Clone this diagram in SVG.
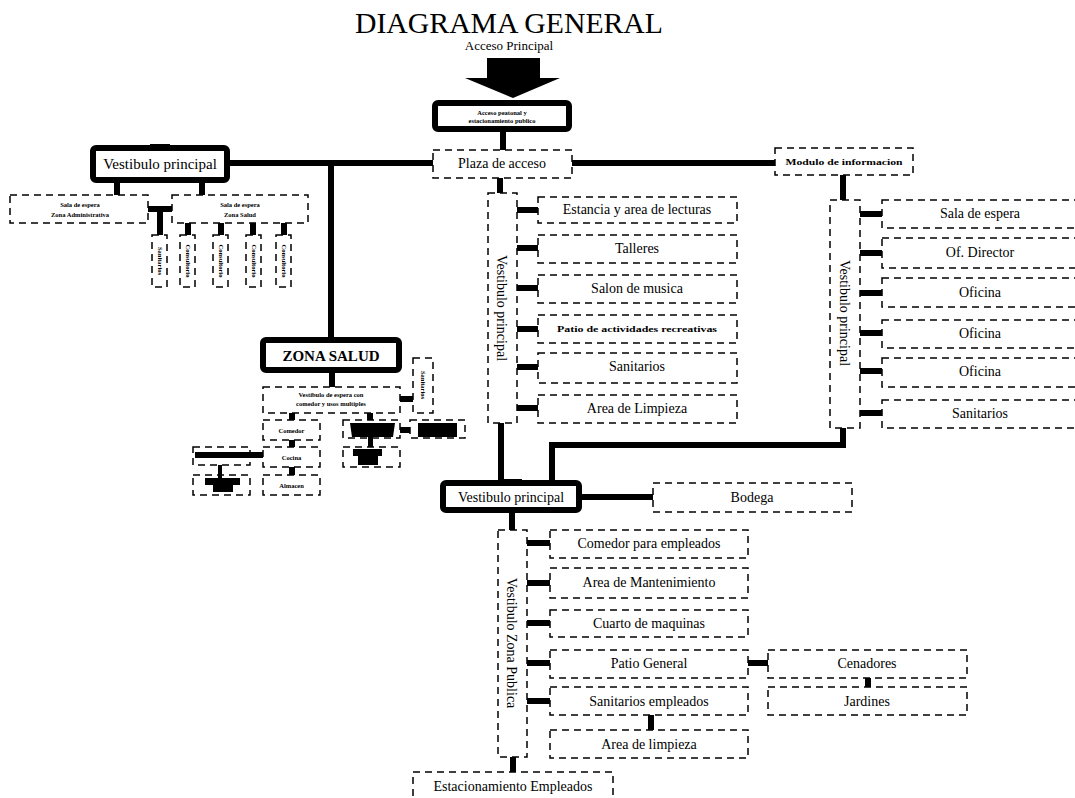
<svg xmlns="http://www.w3.org/2000/svg" width="1075" height="798" viewBox="0 0 1075 798">
<style>
.d{fill:#fff;stroke:#000;stroke-width:1.5;stroke-dasharray:7 5}
.k{fill:#fff;stroke:#000;stroke-width:6}
.ln{fill:none;stroke:#000;stroke-width:6}
.st{fill:none;stroke:#000;stroke-width:6;stroke-linecap:round}
text{fill:#000;text-anchor:middle}
.m{font-size:14px}
.s{font-size:6.5px;font-weight:bold}
.b{fill:#000}
</style>
<rect width="1075" height="798" fill="#fff"/>
<g font-family="'Liberation Serif', 'Times New Roman', serif">
<g id="title">
<text x="509" y="33" font-size="29" textLength="308" lengthAdjust="spacingAndGlyphs">DIAGRAMA GENERAL</text>
<text x="509" y="50" font-size="13">Acceso Principal</text>
<polygon class="b" points="487,58 540,58 540,78 560,78 513,98 465,78 487,78"/>
</g>
<g id="connectors">
<path class="st" d="M503,132V150"/>
<path class="ln" d="M230,163H433M331,163V337M572,163H775"/>
<path class="st" d="M117,183V195M202,183V195M148,209H172M160,209V235M188,223V235M221,223V235M253,223V235M284,223V235"/>
<path class="st" d="M332,373V387M400,399H413M292,413V420M292,440V447M292,467V475M370,413V420M400,430H410"/>
<path class="st" d="M500,178V193M517,210H538M517,248H538M517,288H538M517,329H538M517,367H538M517,408H538"/>
<path class="ln" d="M501,423V480M843,428V445H552V480"/>
<path class="st" d="M843,175V200M860,214H882M860,253H882M860,293H882M860,333H882M860,371H882M860,413H882"/>
<path class="ln" d="M582,497H653"/>
<path class="st" d="M512,513V530M527,543H550M527,583H550M527,623H550M527,663H550M527,701H550M651,715V730M748,663H768M868,678V687M513,757V772"/>
</g>
<g id="n-acceso"><rect class="k" x="435" y="103" width="134" height="26" rx="3"/><text class="s" x="502" y="115">Acceso peatonal y</text><text class="s" x="502" y="123">estacionamiento publico</text></g>
<g id="n-plaza"><rect class="d" x="433" y="150" width="139" height="28"/><text class="m" x="502" y="168">Plaza de acceso</text></g>
<g id="n-vest-left"><rect class="k" x="93" y="148" width="134" height="32" rx="3"/><rect class="b" x="150" y="144" width="20" height="5"/><text x="160" y="169" font-size="15">Vestibulo principal</text></g>
<g id="n-sala-admin"><rect class="d" x="10" y="195" width="138" height="28"/><text class="s" x="80" y="207">Sala de espera</text><text class="s" x="80" y="217">Zona Administrativa</text></g>
<g id="n-sala-salud"><rect class="d" x="172" y="195" width="136" height="28"/><text class="s" x="240" y="207">Sala de espera</text><text class="s" x="240" y="217">Zona Salud</text></g>
<g id="n-v1"><rect class="d" x="152" y="235" width="15" height="52"/><text class="s" transform="translate(159.5,261) rotate(90)" y="2">Sanitarios</text></g>
<g id="n-v2"><rect class="d" x="180" y="235" width="15" height="52"/><text class="s" transform="translate(187.5,261) rotate(90)" y="2">Consultorio</text></g>
<g id="n-v3"><rect class="d" x="213" y="235" width="15" height="52"/><text class="s" transform="translate(220.5,261) rotate(90)" y="2">Consultorio</text></g>
<g id="n-v4"><rect class="d" x="246" y="235" width="15" height="52"/><text class="s" transform="translate(253.5,261) rotate(90)" y="2">Consultorio</text></g>
<g id="n-v5"><rect class="d" x="276" y="235" width="15" height="52"/><text class="s" transform="translate(283.5,261) rotate(90)" y="2">Consultorio</text></g>
<g id="n-zona-salud"><rect class="k" x="263" y="340" width="136" height="30" rx="3"/><text x="331" y="361" font-size="15" font-weight="bold">ZONA SALUD</text></g>
<g id="n-vest-espera"><rect class="d" x="263" y="387" width="137" height="26"/><text class="s" x="331" y="397">Vestibulo de espera con</text><text class="s" x="331" y="406">comedor y usos multiples</text></g>
<g id="n-zs-sanit"><rect class="d" x="413" y="358" width="20" height="55"/><text class="s" transform="translate(423,385) rotate(90)" y="2">Sanitarios</text></g>
<g id="n-comedor"><rect class="d" x="263" y="420" width="57" height="20"/><text class="s" x="291.5" y="433">Comedor</text></g>
<g id="n-cocina"><rect class="d" x="263" y="447" width="57" height="20"/><text class="s" x="291.5" y="460">Cocina</text></g>
<g id="n-almacen"><rect class="d" x="263" y="475" width="57" height="20"/><text class="s" x="291.5" y="488">Almacen</text></g>
<g id="n-left-a"><rect class="d" x="193" y="447" width="57" height="18"/><rect class="b" x="195" y="452" width="68" height="6"/></g>
<g id="n-left-b"><rect class="d" x="193" y="475" width="57" height="20"/><rect class="b" x="218" y="465" width="4" height="13"/><rect class="b" x="205" y="478" width="35" height="7"/><rect class="b" x="213" y="485" width="20" height="7"/></g>
<g id="n-right-a"><rect class="d" x="343" y="420" width="57" height="18"/><polygon class="b" points="350,423 395,423 393,437 352,437"/><rect class="b" x="368" y="437" width="5" height="10"/></g>
<g id="n-right-b"><rect class="d" x="343" y="447" width="57" height="20"/><polygon class="b" points="353,449 382,449 382,456 378,456 378,465 358,465 358,456 353,456"/></g>
<g id="n-right-c"><rect class="d" x="410" y="420" width="55" height="18"/><rect class="b" x="418" y="423" width="39" height="14"/></g>
<g id="n-vest-center"><rect class="d" x="488" y="193" width="29" height="230"/><text class="m" transform="translate(502,308) rotate(90)" y="5">Vestibulo principal</text></g>
<g id="n-estancia"><rect class="d" x="538" y="197" width="199" height="26"/><text class="m" x="637" y="214">Estancia y area de lecturas</text></g>
<g id="n-talleres"><rect class="d" x="538" y="235" width="199" height="28"/><text class="m" x="637" y="253">Talleres</text></g>
<g id="n-salon"><rect class="d" x="538" y="275" width="199" height="28"/><text class="m" x="637" y="293">Salon de musica</text></g>
<g id="n-patio-act"><rect class="d" x="538" y="315" width="199" height="28"/><text x="637" y="332" font-size="9" font-weight="bold" textLength="160" lengthAdjust="spacingAndGlyphs">Patio de actividades recreativas</text></g>
<g id="n-sanit-c"><rect class="d" x="538" y="353" width="199" height="30"/><text class="m" x="637" y="371">Sanitarios</text></g>
<g id="n-limpieza-c"><rect class="d" x="538" y="395" width="199" height="28"/><text class="m" x="637" y="413">Area de Limpieza</text></g>
<g id="n-modulo"><rect class="d" x="775" y="148" width="138" height="27"/><text x="844" y="165" font-size="9" font-weight="bold" textLength="117" lengthAdjust="spacingAndGlyphs">Modulo de informacion</text></g>
<g id="n-vest-right"><rect class="d" x="830" y="200" width="30" height="228"/><text class="m" transform="translate(845,313) rotate(90)" y="5">Vestibulo principal</text></g>
<g id="n-sala-espera"><rect class="d" x="882" y="200" width="196" height="28"/><text class="m" x="980" y="218">Sala de espera</text></g>
<g id="n-director"><rect class="d" x="882" y="238" width="196" height="30"/><text class="m" x="980" y="257">Of. Director</text></g>
<g id="n-oficina1"><rect class="d" x="882" y="278" width="196" height="29"/><text class="m" x="980" y="297">Oficina</text></g>
<g id="n-oficina2"><rect class="d" x="882" y="320" width="196" height="28"/><text class="m" x="980" y="338">Oficina</text></g>
<g id="n-oficina3"><rect class="d" x="882" y="358" width="196" height="29"/><text class="m" x="980" y="376">Oficina</text></g>
<g id="n-sanit-r"><rect class="d" x="882" y="400" width="196" height="28"/><text class="m" x="980" y="418">Sanitarios</text></g>
<g id="n-vest-bottom"><rect class="k" x="443" y="483" width="136" height="27" rx="3"/><rect class="b" x="503" y="479" width="19" height="5"/><text class="m" x="511" y="502">Vestibulo principal</text></g>
<g id="n-bodega"><rect class="d" x="653" y="483" width="199" height="29"/><text class="m" x="752" y="502">Bodega</text></g>
<g id="n-vest-publica"><rect class="d" x="498" y="530" width="29" height="227"/><text class="m" transform="translate(512,643) rotate(90)" y="5">Vestibulo Zona Publica</text></g>
<g id="n-comedor-emp"><rect class="d" x="550" y="530" width="198" height="28"/><text class="m" x="649" y="548">Comedor para empleados</text></g>
<g id="n-mant"><rect class="d" x="550" y="568" width="198" height="30"/><text class="m" x="649" y="587">Area de Mantenimiento</text></g>
<g id="n-cuarto"><rect class="d" x="550" y="610" width="198" height="27"/><text class="m" x="649" y="628">Cuarto de maquinas</text></g>
<g id="n-patio-gen"><rect class="d" x="550" y="650" width="198" height="28"/><text class="m" x="649" y="668">Patio General</text></g>
<g id="n-sanit-emp"><rect class="d" x="550" y="687" width="198" height="28"/><text class="m" x="649" y="706">Sanitarios empleados</text></g>
<g id="n-limpieza-b"><rect class="d" x="550" y="730" width="198" height="28"/><text class="m" x="649" y="749">Area de limpieza</text></g>
<g id="n-cenadores"><rect class="d" x="768" y="650" width="199" height="28"/><text class="m" x="867" y="668">Cenadores</text></g>
<g id="n-jardines"><rect class="d" x="768" y="687" width="199" height="28"/><text class="m" x="867" y="706">Jardines</text></g>
<g id="n-estac"><rect class="d" x="413" y="772" width="200" height="40"/><text class="m" x="513" y="791">Estacionamiento Empleados</text></g>
</g>
</svg>
